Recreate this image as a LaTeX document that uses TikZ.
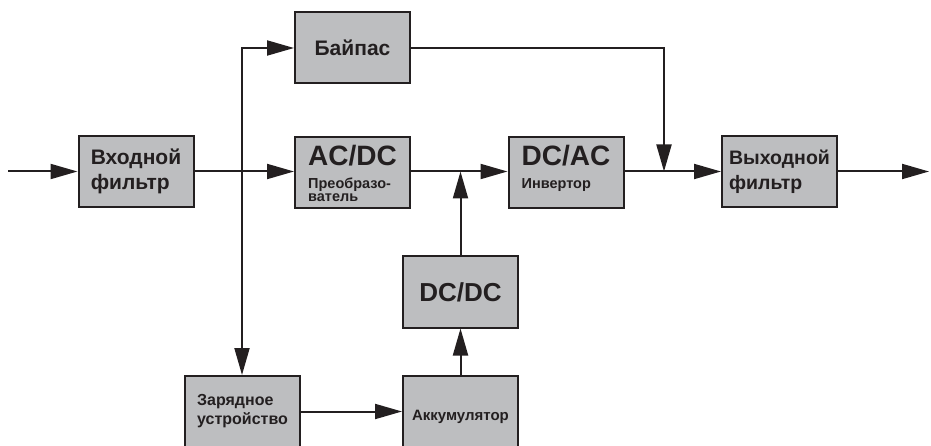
\documentclass[tikz,border=0pt]{standalone}
\usepackage{fontspec}
\setmainfont{Liberation Sans}
\usetikzlibrary{arrows.meta}

\definecolor{boxgray}{HTML}{BDBEC0}
\definecolor{linecol}{HTML}{231F20}

\begin{document}
\begin{tikzpicture}[x=1pt,y=-1pt]

\tikzstyle{block} = [rectangle, draw=linecol, fill=boxgray, line width=2pt, minimum width=115pt, minimum height=71pt, align=left, text=linecol]
\tikzstyle{flow} = [draw=linecol, line width=2pt, -{Triangle[length=27pt,width=15pt]}]

\clip (0,0) rectangle (931,446);
\useasboundingbox (0,0) rectangle (931,446);

\node[block, font=\fontsize{21}{25}\selectfont\bfseries] (infilt) at (136,171.5) {Входной\\фильтр};
\node[block, font=\fontsize{21}{25}\selectfont\bfseries] (bypass) at (352.5,48) {Байпас};
\node[block, font=\fontsize{14.5}{13}\selectfont\bfseries] (acdc) at (352.5,173) {{\fontsize{28}{28}\selectfont AC/DC}\\[10pt]Преобразо-\\ватель};
\node[block, font=\fontsize{14.5}{13}\selectfont\bfseries] (dcac) at (566,173) {{\fontsize{28}{28}\selectfont DC/AC}\\[10pt]Инвертор\\\mbox{}};
\node[block, font=\fontsize{19.5}{25}\selectfont\bfseries] (outfilt) at (779.5,171.5) {Выходной\\фильтр};
\node[block, font=\fontsize{26}{26}\selectfont\bfseries] (dcdc) at (460.5,292) {DC/DC};
\node[block, font=\fontsize{16}{19}\selectfont\bfseries] (charger) at (242.5,411.5) {Зарядное\\устройство};
\node[block, minimum height=82pt, font=\fontsize{15}{18}\selectfont\bfseries] (battery) at (460.5,417) {Аккумулятор};

\coordinate (in) at (8,171.5);
\coordinate (out) at (929,171.5);
\coordinate (split) at (242,171.5);
\coordinate (jdc) at (split -| dcdc.north);
\coordinate (jby) at (664,171.5);

\draw[flow] (in) -- (infilt.west);
\draw[flow] (infilt.east) -- (infilt.east -| acdc.west);
\draw[flow] (split) |- (bypass.west);
\draw[flow] (split) -- (split |- charger.north);
\draw[flow] (acdc.east |- split) -- (split -| dcac.west);
\draw[flow] (battery.north) -- (dcdc.south);
\draw[flow] (dcdc.north) -- (jdc);
\draw[flow] (dcac.east |- split) -- (outfilt.west);
\draw[flow] (bypass.east) -| (jby);
\draw[flow] (outfilt.east) -- (out);
\draw[flow] (charger.east) -- (charger.east -| battery.west);

\end{tikzpicture}
\end{document}
